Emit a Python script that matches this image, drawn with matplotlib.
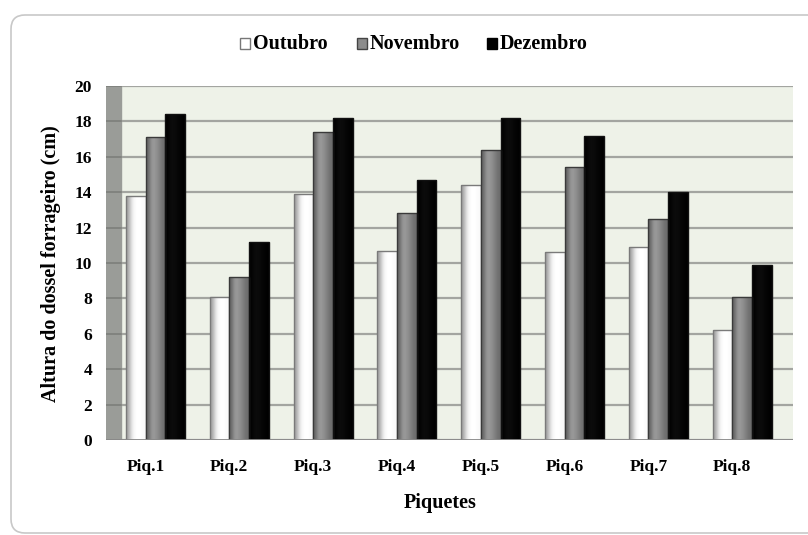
import numpy as np
import matplotlib.pyplot as plt
from matplotlib.patches import FancyBboxPatch, Rectangle
from matplotlib.transforms import ScaledTranslation

plt.rcParams["font.family"] = ["Liberation Serif", "DejaVu Serif"]

piquetes = ["Piq.1", "Piq.2", "Piq.3", "Piq.4", "Piq.5", "Piq.6", "Piq.7", "Piq.8"]
meses = ["Outubro", "Novembro", "Dezembro"]
outubro = [13.8, 8.1, 13.9, 10.7, 14.4, 10.6, 10.9, 6.2]
novembro = [17.1, 9.2, 17.4, 12.8, 16.4, 15.4, 12.5, 8.1]
dezembro = [18.4, 11.2, 18.2, 14.7, 18.2, 17.2, 14.0, 9.9]

W, H = 808, 535
fig = plt.figure(figsize=(W / 100, H / 100), dpi=100, facecolor="white")

# outer chart frame
bg = fig.add_axes([0, 0, 1, 1])
bg.set_xlim(0, W)
bg.set_ylim(H, 0)
bg.axis("off")
bg.add_patch(FancyBboxPatch((11, 15), 810, 518, boxstyle="round,pad=0,rounding_size=14",
                            facecolor="white", edgecolor="#c8c8c8", lw=1.2))

# plot area: 106..793 px wide, 86..440 px tall
x0, x1, y0, y1 = 106, 793, 86, 440
ax = fig.add_axes([x0 / W, (H - y1) / H, (x1 - x0) / W, (y1 - y0) / H])
px_per_cat = 83.8
lo = -49.5 / px_per_cat
hi = lo + (x1 - x0) / px_per_cat
wall = 15 / px_per_cat
ax.set_facecolor("#eef2e8")

# side wall and gridlines
ax.axvspan(lo, lo + wall, color="#9a9c98", zorder=1)
for yv in range(0, 21, 2):
    ax.axhline(yv, xmin=wall / (hi - lo), xmax=1, color="#a3a5a0", lw=1.6, zorder=1)
    ax.axhline(yv, xmin=0, xmax=wall / (hi - lo), color="#7c7e7a", lw=1.2, zorder=1.5)

x = np.arange(len(piquetes))
bw = 0.235
series = [
    (outubro, -bw, "#7a7a7a", [0.62, 0.93, 1.0, 1.0, 0.97]),
    (novembro, 0, "#3a3a3a", [0.38, 0.62, 0.58, 0.50, 0.42]),
    (dezembro, bw, "#111111", [0.0, 0.05, 0.04, 0.02, 0.0]),
]
for vals, off, ec, shade in series:
    bars = ax.bar(x + off, vals, bw, color="none", edgecolor=ec, lw=1.0, zorder=4)
    grad = np.array(shade)[None, :]
    for b in bars:
        im = ax.imshow(grad, cmap="gray", vmin=0, vmax=1, aspect="auto", interpolation="bicubic",
                       extent=(b.get_x(), b.get_x() + b.get_width(), 0, b.get_height()), zorder=3)
        im.set_clip_path(b)
ax.set_xlim(lo, hi)
ax.set_ylim(0, 20)

for s in ax.spines.values():
    s.set_visible(False)
ax.axhline(0, color="#8a8a8a", lw=2, zorder=5)

ax.set_yticks(range(0, 21, 2))
ax.set_xticks(x)
ax.set_xticklabels(piquetes, fontsize=12.5, fontweight="bold")
ax.tick_params(axis="both", length=0)
ax.tick_params(axis="x", pad=14)
ax.tick_params(axis="y", pad=10)
shift = ScaledTranslation(-10 / 100, 0, fig.dpi_scale_trans)
for t in ax.get_xticklabels():
    t.set_transform(t.get_transform() + shift)
for t in ax.get_yticklabels():
    t.set_fontsize(12.5)
    t.set_fontweight("bold")
ax.set_xlabel("Piquetes", fontsize=14.5, fontweight="bold")
ax.xaxis.set_label_coords((440 - x0) / (x1 - x0), -(493 - y1) / (y1 - y0))
ax.set_ylabel("Altura do dossel forrageiro (cm)", fontsize=14.5, fontweight="bold")
ax.yaxis.set_label_coords(-(x0 - 61) / (x1 - x0), (440 - 264) / (y1 - y0))

# legend row on top
leg_items = [(240, "white", "#777777"), (357, "#8c8c8c", "#444444"), (487, "black", "black")]
for (lx, fc, ec), name in zip(leg_items, meses):
    bg.add_patch(Rectangle((lx, 38), 10, 11, facecolor=fc, edgecolor=ec, lw=1))
    bg.text(lx + 13, 44, name, fontsize=14.5, fontweight="bold", va="center", ha="left")

fig.savefig("out.png", dpi=100, facecolor="white")
